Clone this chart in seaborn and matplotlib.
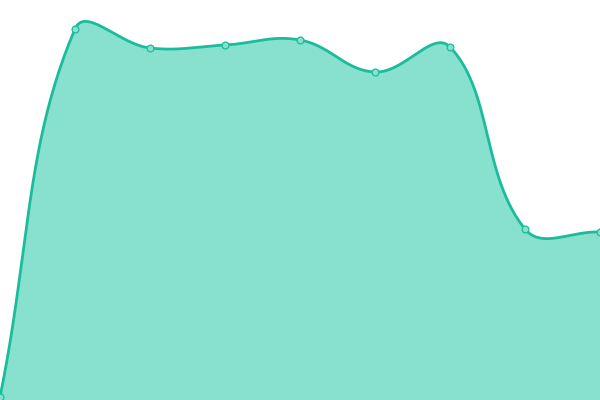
import numpy as np
import pandas as pd
import matplotlib
matplotlib.use("Agg")
import matplotlib.pyplot as plt
import seaborn as sns

# Data (y axis 0..400)
categories = [0, 1, 2, 3, 4, 5, 6, 7, 8]
values = [3, 371, 352, 355, 360, 328, 353, 171, 168]

LINE = "#1ABC9C"
FILL = "#88E0CF"
TENSION = 0.4
XSCALE = 75.0  # pixels per category step (used for distance weighting)


def spline_path(xs, ys, t=TENSION, n=50):
    P = np.column_stack([np.asarray(xs, float) * XSCALE, np.asarray(ys, float)])
    m = len(P)
    cp_prev = np.zeros_like(P)
    cp_next = np.zeros_like(P)
    for i in range(m):
        prev = P[i - 1] if i > 0 else P[i]
        nxt = P[i + 1] if i < m - 1 else P[i]
        cur = P[i]
        d01 = np.linalg.norm(cur - prev)
        d12 = np.linalg.norm(nxt - cur)
        tot = d01 + d12
        s01 = d01 / tot if tot else 0
        s12 = d12 / tot if tot else 0
        cp_prev[i] = cur - t * s01 * (nxt - prev)
        cp_next[i] = cur + t * s12 * (nxt - prev)
    out = []
    u = np.linspace(0, 1, n)[:, None]
    for i in range(m - 1):
        p0, p1, p2, p3 = P[i], cp_next[i], cp_prev[i + 1], P[i + 1]
        B = ((1 - u) ** 3) * p0 + 3 * ((1 - u) ** 2) * u * p1 + 3 * (1 - u) * u ** 2 * p2 + u ** 3 * p3
        out.append(B if i == 0 else B[1:])
    C = np.vstack(out)
    return C[:, 0] / XSCALE, C[:, 1]


sns.set_theme(style="white")
fig = plt.figure(figsize=(6, 4), dpi=100)
ax = fig.add_axes([0, 0, 1, 1])

cx, cy = spline_path(categories, values)
curve = pd.DataFrame({"x": cx, "y": cy})
pts = pd.DataFrame({"x": categories, "y": values})

ax.fill_between(curve["x"], 0, curve["y"], color=FILL, linewidth=0, zorder=1)
sns.lineplot(data=curve, x="x", y="y", sort=False, color=LINE, linewidth=2.0,
             ax=ax, zorder=2)
sns.scatterplot(data=pts, x="x", y="y", s=24, color=FILL, edgecolor=LINE,
                linewidth=0.9, ax=ax, zorder=3, clip_on=False)

ax.set_xlim(0, 8)
ax.set_ylim(0, 400)
ax.axis("off")
fig.savefig("out.png", dpi=100)
